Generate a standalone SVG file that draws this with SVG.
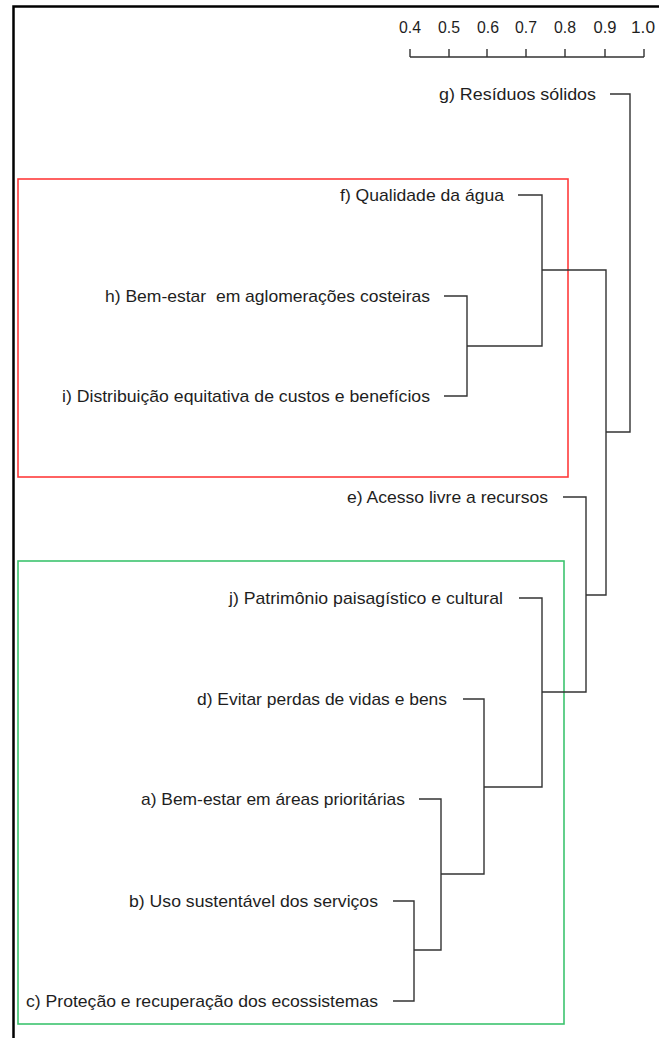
<svg xmlns="http://www.w3.org/2000/svg" width="659" height="1038" viewBox="0 0 659 1038">
<style>
  text { font-family: "Liberation Sans", Arial, sans-serif; fill: #1e1e1e; }
  .lbl { font-size: 17px; text-anchor: end; }
  .ax { font-size: 16px; text-anchor: middle; }
  .con { fill: none; stroke: #333; stroke-width: 1.4; }
  .frame { fill: none; stroke: #000; stroke-width: 2.5; }
</style>
<rect width="659" height="1038" fill="#fff"/>
<path class="frame" d="M13.5,1038 V6.5 H659"/>
<g id="scale">
  <text class="ax" x="410" y="33" textLength="22" lengthAdjust="spacingAndGlyphs">0.4</text>
  <text class="ax" x="449" y="33" textLength="22" lengthAdjust="spacingAndGlyphs">0.5</text>
  <text class="ax" x="488" y="33" textLength="22" lengthAdjust="spacingAndGlyphs">0.6</text>
  <text class="ax" x="526" y="33" textLength="22" lengthAdjust="spacingAndGlyphs">0.7</text>
  <text class="ax" x="565" y="33" textLength="22" lengthAdjust="spacingAndGlyphs">0.8</text>
  <text class="ax" x="605" y="33" textLength="23" lengthAdjust="spacingAndGlyphs">0.9</text>
  <text class="ax" x="643" y="33" textLength="24" lengthAdjust="spacingAndGlyphs">1.0</text>
  <path class="con" d="M410,57 H644 M410,49 V57 M449,49 V57 M487,49 V57 M526,49 V57 M565,49 V57 M605,49 V57 M644,49 V57"/>
</g>
<g id="group-red"><rect x="18" y="179" width="550" height="298" fill="none" stroke="#ff3b3b" stroke-width="1.6"/></g>
<g id="group-green"><rect x="18" y="561" width="546" height="463" fill="none" stroke="#3cc46e" stroke-width="1.6"/></g>
<g id="connectors">
  <path class="con" d="M610,94 H630 V432 H606"/>
  <path class="con" d="M518,195 H542 V346 H467"/>
  <path class="con" d="M444,296 H467 V396 H444"/>
  <path class="con" d="M542,270 H606 V595 H586"/>
  <path class="con" d="M563,497 H586 V692 H542"/>
  <path class="con" d="M519,598 H542 V787 H484"/>
  <path class="con" d="M463,699 H484 V874 H441"/>
  <path class="con" d="M419,799 H441 V950 H414"/>
  <path class="con" d="M393,901 H414 V1001 H393"/>
</g>
<g id="node-g"><text class="lbl" x="596" y="100" textLength="157" lengthAdjust="spacingAndGlyphs">g) Resíduos sólidos</text></g>
<g id="node-f"><text class="lbl" x="504" y="201" textLength="164" lengthAdjust="spacingAndGlyphs">f) Qualidade da água</text></g>
<g id="node-h"><text class="lbl" x="430" y="302" textLength="325" lengthAdjust="spacingAndGlyphs" xml:space="preserve">h) Bem-estar  em aglomerações costeiras</text></g>
<g id="node-i"><text class="lbl" x="430" y="402" textLength="368" lengthAdjust="spacingAndGlyphs">i) Distribuição equitativa de custos e benefícios</text></g>
<g id="node-e"><text class="lbl" x="548" y="503" textLength="201" lengthAdjust="spacingAndGlyphs">e) Acesso livre a recursos</text></g>
<g id="node-j"><text class="lbl" x="503" y="604" textLength="274" lengthAdjust="spacingAndGlyphs">j) Patrimônio paisagístico e cultural</text></g>
<g id="node-d"><text class="lbl" x="447" y="705" textLength="250" lengthAdjust="spacingAndGlyphs">d) Evitar perdas de vidas e bens</text></g>
<g id="node-a"><text class="lbl" x="405" y="805" textLength="264" lengthAdjust="spacingAndGlyphs">a) Bem-estar em áreas prioritárias</text></g>
<g id="node-b"><text class="lbl" x="378" y="907" textLength="249" lengthAdjust="spacingAndGlyphs">b) Uso sustentável dos serviços</text></g>
<g id="node-c"><text class="lbl" x="378" y="1007" textLength="352" lengthAdjust="spacingAndGlyphs">c) Proteção e recuperação dos ecossistemas</text></g>
</svg>
